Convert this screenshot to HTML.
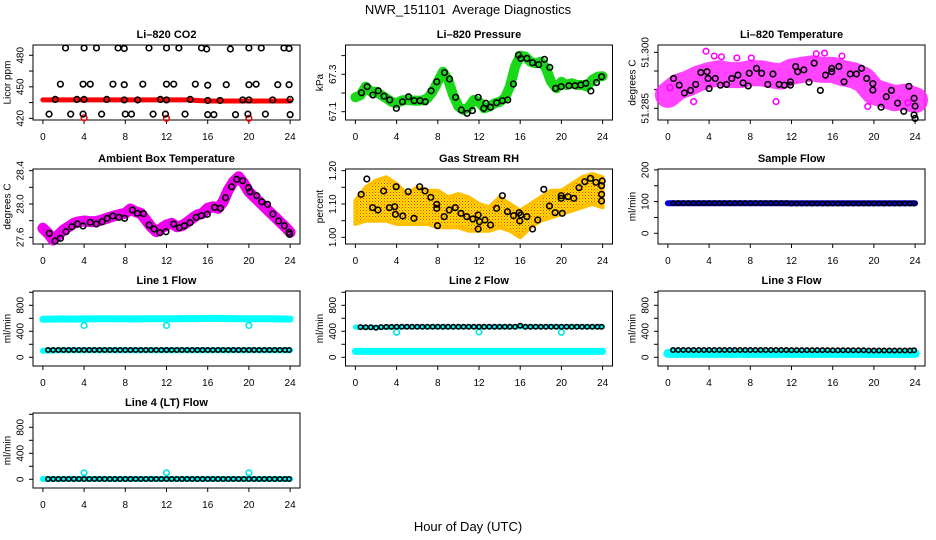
<!DOCTYPE html>
<html>
<head>
<meta charset="utf-8">
<style>
html,body{margin:0;padding:0;background:#fff;}
svg{display:block;font-family:"Liberation Sans",Arial,sans-serif;}
</style>
</head>
<body>
<svg id="chart" width="936" height="540" viewBox="0 0 936 540" xmlns="http://www.w3.org/2000/svg">
<text x="468" y="14" text-anchor="middle" font-size="13" xml:space="preserve">NWR_151101  Average Diagnostics</text>
<text x="468" y="531" text-anchor="middle" font-size="13">Hour of Day (UTC)</text>
</svg>
<script>
// ---------- data ----------
const tickHours = [0,4,8,12,16,20,24];
const hourly = [0,1,2,3,4,5,6,7,8,9,10,11,12,13,14,15,16,17,18,19,20,21,22,23,24];
const halfHours = [0,0.5,1,1.5,2,2.5,3,3.5,4,4.5,5,5.5,6,6.5,7,7.5,8,8.5,9,9.5,10,10.5,11,11.5,12,12.5,13,13.5,14,14.5,15,15.5,16,16.5,17,17.5,18,18.5,19,19.5,20,20.5,21,21.5,22,22.5,23,23.5,24];
const flowHours = [0.5,1,1.5,2,2.5,3,3.5,4,4.5,5,5.5,6,6.5,7,7.5,8,8.5,9,9.5,10,10.5,11,11.5,12,12.5,13,13.5,14,14.5,15,15.5,16,16.5,17,17.5,18,18.5,19,19.5,20,20.5,21,21.5,22,22.5,23,23.5,23.9];

// CO2
const co2Red = [437.5,437.5,437.5,437.5,437.5,437.5,437.5,437.5,437.5,437.5,437.5,437.5,437.5,437.5,437.5,437,436.5,436.5,436.5,436.5,436.5,436.5,436.5,436.5,436.5];
const co2RedDipHours = [4,12,20];
const co2RedDipValues = [420.5,420,420];
const co2BlackHours = [2.2,4.0,5.2,7.3,7.9,10.3,12.0,13.2,15.4,15.9,18.2,20.0,21.2,23.4,23.9,
  1.7,3.9,4.6,6.8,7.9,9.7,12.0,12.7,14.8,16.0,17.8,20.0,20.7,22.8,23.9,
  1.2,3.3,4.0,6.2,7.9,9.2,11.4,12.0,14.3,16.0,17.2,19.4,20.0,22.3,24.0,
  0.6,2.7,3.9,5.7,8.0,8.6,10.7,11.9,13.8,16.0,16.6,18.7,19.9,21.6,24.0];
const co2BlackValues = [487,487,487,487,486.5,487,487,487,487,486,486,487,487,487,486.5,
  452.5,452.5,452.5,452.5,452,452.5,452.5,452.5,452.5,451.5,452,452,452.5,452,452,
  438,438,438,438,437.5,437.5,438,437.5,438,437,437,437.5,437.5,437.5,438,
  424,424,424,424,424,424,424,424,424,423.5,423.5,423.5,424,424,423.5];

// Pressure
const presGreen = [67.177,67.189,67.234,67.207,67.207,67.189,67.172,67.153,67.145,67.160,67.163,67.160,67.159,67.160,67.172,67.207,67.260,67.314,67.270,67.189,67.127,67.109,67.124,67.163,67.153,67.118,67.127,67.145,67.153,67.172,67.234,67.341,67.400,67.394,67.367,67.359,67.367,67.332,67.260,67.225,67.260,67.243,67.252,67.243,67.243,67.234,67.270,67.287,67.290];
const presBlackHours = [0.59,1.14,1.70,2.22,2.78,3.33,3.98,4.57,5.16,5.71,6.27,6.79,7.35,7.90,8.65,9.14,9.73,10.28,10.84,11.36,11.92,12.47,12.67,13.12,13.71,14.27,14.79,15.34,15.83,16.06,16.65,17.20,17.79,18.35,18.87,19.43,19.98,20.73,21.32,21.88,22.37,22.86,23.41,23.9];
const presBlackValues = [67.201,67.234,67.189,67.212,67.183,67.163,67.118,67.153,67.180,67.159,67.159,67.153,67.212,67.260,67.309,67.275,67.177,67.109,67.091,67.106,67.177,67.118,67.145,67.124,67.148,67.159,67.163,67.248,67.403,67.385,67.385,67.362,67.352,67.380,67.337,67.225,67.234,67.239,67.239,67.243,67.252,67.211,67.256,67.287];

// Li-820 temperature
const ltempCenter = [51.2886,51.2908,51.2917,51.2930,51.2939,51.2944,51.2939,51.2939,51.2944,51.2944,51.2939,51.2935,51.2948,51.2953,51.2957,51.2953,51.2953,51.2944,51.2939,51.2926,51.2894,51.2886,51.2877,51.2881,51.2872];
const ltempOutlierHours = [3.7,0.2,4.5,5.2,6.7,8.1,14.4,15.2,19.4,16.9,23.3,10.5,2.5];
const ltempOutlierValues = [51.3003,51.2905,51.2990,51.2988,51.2985,51.2985,51.2996,51.2998,51.2855,51.2990,51.2865,51.2868,51.2868];
const ltempBlackHours = [0.55,1.1,1.6,2.2,2.7,3.2,3.8,3.9,4.0,4.6,5.1,5.7,6.2,6.8,7.3,7.8,7.9,8.6,9.1,9.7,10.2,10.8,11.3,11.9,11.9,12.4,12.6,13.2,13.7,14.2,14.8,15.3,15.9,15.9,16.6,17.1,17.7,18.3,18.8,19.3,19.9,19.9,20.7,21.2,21.7,22.3,22.9,23.4,23.9,24.0,23.9,24.0];
const ltempBlackValues = [51.2930,51.2912,51.2891,51.2898,51.2914,51.2946,51.2948,51.2930,51.2903,51.2930,51.2912,51.2914,51.2930,51.2939,51.2918,51.2910,51.2944,51.2957,51.2944,51.2914,51.2942,51.2914,51.2912,51.2912,51.2921,51.2962,51.2948,51.2953,51.2920,51.2971,51.2898,51.2939,51.2948,51.2957,51.2962,51.2921,51.2942,51.2942,51.2957,51.2930,51.2916,51.2899,51.2853,51.2881,51.2898,51.2864,51.2842,51.2909,51.2877,51.2856,51.2832,51.2823];

// Ambient box temperature
const ambMagenta = [27.708,27.648,27.568,27.628,27.688,27.727,27.768,27.787,27.796,27.790,27.787,27.800,27.820,27.840,27.860,27.875,27.888,27.940,27.907,27.888,27.808,27.727,27.667,27.708,27.748,27.768,27.727,27.739,27.780,27.828,27.868,27.888,27.948,27.967,27.948,28.027,28.168,28.268,28.327,28.248,28.147,28.087,28.027,27.967,27.907,27.847,27.787,27.727,27.660];
const ambBlackHours = [0.62,1.18,1.70,2.25,2.81,3.36,3.89,4.60,5.19,5.75,6.24,6.79,7.38,7.93,8.69,9.18,9.76,10.31,10.80,11.36,11.95,12.70,13.25,13.74,14.29,14.88,15.38,15.96,16.68,17.24,17.73,18.32,18.81,19.39,19.95,20.11,20.76,21.25,21.81,22.33,22.88,23.44,23.9,23.95];
const ambBlackValues = [27.648,27.556,27.588,27.667,27.727,27.760,27.736,27.780,27.760,27.787,27.828,27.856,27.840,27.828,27.928,27.888,27.885,27.748,27.700,27.655,27.667,27.760,27.715,27.739,27.775,27.840,27.860,27.876,27.960,27.948,28.075,28.207,28.296,28.280,28.195,28.147,28.100,28.027,27.996,27.880,27.796,27.739,27.660,27.636];

// Gas stream RH
const rhLow  = [1.04,1.05,1.05,1.05,1.04,1.04,1.04,1.04,1.03,1.03,1.03,1.02,1.02,1.02,1.03,1.02,1.00,1.03,1.05,1.06,1.07,1.08,1.09,1.10,1.09];
const rhHigh = [1.11,1.15,1.17,1.18,1.16,1.13,1.15,1.14,1.14,1.12,1.13,1.12,1.10,1.09,1.12,1.10,1.08,1.10,1.12,1.14,1.14,1.16,1.18,1.19,1.18];
const rhBlackHours = [0.56,1.11,1.67,2.19,2.74,3.3,3.82,3.96,3.89,4.6,5.13,5.68,6.24,6.76,7.32,7.9,7.9,7.97,8.62,9.11,9.7,10.25,10.81,11.4,11.92,12.05,11.92,12.58,13.12,13.71,14.27,14.76,15.35,15.9,15.96,16.06,16.65,17.2,17.7,18.29,18.84,19.39,19.98,19.98,20.08,20.64,21.2,21.71,22.27,22.82,23.35,23.9,23.9,23.9,23.96];
const rhBlackValues = [1.129,1.175,1.089,1.082,1.139,1.089,1.092,1.152,1.069,1.064,1.137,1.057,1.152,1.139,1.120,1.099,1.087,1.035,1.062,1.082,1.089,1.072,1.062,1.055,1.067,1.047,1.025,1.052,1.037,1.087,1.125,1.077,1.065,1.074,1.049,1.067,1.062,1.025,1.052,1.144,1.094,1.074,1.125,1.117,1.072,1.122,1.117,1.149,1.167,1.177,1.165,1.155,1.129,1.109,1.169];

// Sample flow
const sampleBlue = [95,95,95,95,95,95,95,95,95,95,95,95,95,95,95,95,95,95,95,95,95,95,95,95,95];
const sampleBlack = [95,95,95,95,95,95,95,95,95,95,95,95,95,95,95,95,95,95,95,95,95,95,95,94,94,94,94,94,94,94,94,94,94,94,94,94,94,94,94,94,94,94,94,94,94,94,94,94];

// Line 1 flow
const line1CyanHigh = [585,588,590,588,590,590,592,590,592,590,594,592,594,594,596,596,598,598,596,594,592,592,592,590,588];
const line1CyanLow = [100,105,108,108,108,108,108,108,108,108,108,108,108,108,108,108,108,108,108,108,108,108,108,108,108];
const line1DipHours = [4,12,20];
const line1DipValues = [490,490,490];
const line1Black = [112,112,112,112,112,112,112,112,112,112,112,112,112,112,112,112,112,112,112,112,112,112,112,112,112,112,112,112,112,112,112,112,112,112,112,112,112,112,112,112,112,112,112,112,112,112,112,112];

// Line 2 flow
const line2CyanHigh = [465,460,462,462,465,468,468,468,468,468,468,468,468,468,468,468,470,470,470,470,470,470,470,470,470];
const line2CyanLow = [90,90,90,90,90,90,90,90,90,90,90,90,90,90,90,90,90,90,90,90,90,90,90,90,90];
const line2DipHours = [4,12,20];
const line2DipValues = [385,390,385];
const line2Black = [465,462,462,455,465,468,468,470,470,470,470,470,470,470,470,470,470,470,470,470,470,470,470,470,470,470,470,470,470,470,470,485,470,470,470,470,470,470,470,470,470,470,470,470,470,470,470,470];

// Line 3 flow
const line3Cyan = [60,60,60,60,60,60,60,60,60,60,60,60,60,60,60,60,60,60,60,60,60,60,60,60,60];
const line3Black = [112,112,112,112,112,112,112,112,112,112,112,112,112,112,112,112,112,112,112,112,112,112,112,110,110,110,110,110,110,110,110,108,108,108,108,108,108,108,105,105,105,105,105,105,105,105,105,108];

// Line 4 flow
const line4Cyan = [5,5,5,5,5,5,5,5,5,5,5,5,5,5,5,5,5,5,5,5,5,5,5,5,5];
const line4DipHours = [4,12,20];
const line4DipValues = [100,100,100];
const line4Black = [5,5,5,5,5,5,5,5,5,5,5,5,5,5,5,5,5,5,5,5,5,5,5,5,5,5,5,5,5,5,5,5,5,5,5,5,5,5,5,5,5,5,5,5,5,5,5,5];

// ---------- drawing ----------
const NS = 'http://www.w3.org/2000/svg';
const svg = document.getElementById('chart');
const COLS = [33, 345.5, 658];
const ROWS = [45, 169, 291, 413];
const W = 267, H = 75;

function el(tag, attrs, parent) {
  const e = document.createElementNS(NS, tag);
  for (const k in attrs) e.setAttribute(k, attrs[k]);
  (parent || svg).appendChild(e);
  return e;
}

function panel(name, col, row, title, ylab, ylim, ticks, labels) {
  const g = el('g', {});
  
  
  const L = COLS[col], T = ROWS[row];
  const sx = h => L + (h + 0.96) / 25.92 * W;
  const sy = v => T + H - (v - ylim[0]) / (ylim[1] - ylim[0]) * H;
  const box = el('rect', {x: L, y: T, width: W, height: H, fill: 'none', stroke: '#000', 'stroke-width': 1}, g);
  
  
  const t = el('text', {x: L + W / 2, y: T - 7, 'text-anchor': 'middle', 'font-size': 11, 'font-weight': 'bold'}, g);
  t.textContent = title;
  
  
  const xa = el('g', {}, g);
  
  
  tickHours.forEach(h => {
    el('line', {x1: sx(h), x2: sx(h), y1: T + H, y2: T + H + 4, stroke: '#000'}, xa);
    const tl = el('text', {x: sx(h), y: T + H + 20, 'text-anchor': 'middle', 'font-size': 10}, xa);
    tl.textContent = String(h);
    
    
  });
  const dot = el('text', {x: L + W / 2, y: T + H + 16, 'text-anchor': 'middle', 'font-size': 8}, xa);
  dot.textContent = '.';
  const ya = el('g', {}, g);
  
  
  ticks.forEach(v => {
    if (sy(v) < T - 0.5 || sy(v) > T + H + 0.5) return;
    el('line', {x1: L - 4, x2: L, y1: sy(v), y2: sy(v), stroke: '#000'}, ya);
  });
  labels.forEach(lb => {
    const y = sy(lb[0]);
    const tl = el('text', {x: L - 12, y: y, 'text-anchor': 'middle', 'font-size': 10, transform: 'rotate(-90 ' + (L - 12) + ' ' + y + ')', 'dominant-baseline': 'central'}, ya);
    tl.textContent = lb[1];
    
    
  });
  const yt = el('text', {x: L - 25, y: T + H / 2, 'text-anchor': 'middle', 'font-size': 10, transform: 'rotate(-90 ' + (L - 25) + ' ' + (T + H / 2) + ')', 'dominant-baseline': 'central'}, g);
  yt.textContent = ylab;
  
  
  const data = el('g', {}, g);
  
  
  return {sx, sy, g: data};
}

function band(p, xs, ys, color, w, name, op) {
  const pts = xs.map((x, i) => p.sx(x).toFixed(1) + ',' + p.sy(ys[i]).toFixed(1)).join(' ');
  const pl = el('polyline', {points: pts, fill: 'none', stroke: color, 'stroke-width': w, 'stroke-linejoin': 'round', 'stroke-linecap': 'round', opacity: op || 1}, p.g);
  
  
}
function rings(p, xs, ys, color, name, r) {
  xs.forEach((x, i) => {
    const c = el('circle', {cx: p.sx(x), cy: p.sy(ys[i]), r: r || 2.8, fill: 'none', stroke: color, 'stroke-width': 1.6}, p.g);
    
    
  });
}

const defs = el('defs', {});
const pat = el('pattern', {id: 'rhpat', width: 3, height: 3, patternUnits: 'userSpaceOnUse'}, defs);
el('rect', {width: 3, height: 3, fill: '#ffe000'}, pat);
el('rect', {width: 1, height: 1, fill: '#ff3000'}, pat);
el('rect', {x: 1.5, y: 1.5, width: 1, height: 1, fill: '#ff7000'}, pat);

let p = panel('co2', 0, 0, 'Li\u2013820 CO2', 'Licor ppm', [418.4, 489.8], [420, 435, 450, 465, 480], [[420, '420'], [450, '450'], [480, '480']]);
band(p, hourly, co2Red, '#ff0000', 5, 'co2-red-series');
rings(p, co2RedDipHours, co2RedDipValues, '#ff0000', 'co2-red-point');
rings(p, co2BlackHours, co2BlackValues, '#000', 'co2-black-point');

p = panel('pressure', 1, 0, 'Li\u2013820 Pressure', 'kPa', [67.0556, 67.4567], [67.1, 67.2, 67.3, 67.4], [[67.1, '67.1'], [67.3, '67.3']]);
band(p, halfHours, presGreen, '#18d818', 10, 'pressure-green-series');
rings(p, presBlackHours, presBlackValues, '#000', 'pressure-black-point');

p = panel('li-temp', 2, 0, 'Li\u2013820 Temperature', 'degrees C', [51.28187, 51.30196], [51.285, 51.29, 51.295, 51.3], [[51.285, '51.285'], [51.3, '51.300']]);
band(p, hourly, ltempCenter, '#ff22ff', 26, 'li-temp-magenta-series', 0.85);
rings(p, ltempOutlierHours, ltempOutlierValues, '#ff00ff', 'li-temp-magenta-point');
rings(p, ltempBlackHours, ltempBlackValues, '#000', 'li-temp-black-point');

p = panel('ambient-temp', 0, 1, 'Ambient Box Temperature', 'degrees C', [27.52, 28.42], [27.6, 27.8, 28.0, 28.2, 28.4], [[27.6, '27.6'], [28.0, '28.0'], [28.4, '28.4']]);
band(p, halfHours, ambMagenta, '#ee00ee', 11, 'ambient-magenta-series');
rings(p, ambBlackHours, ambBlackValues, '#000', 'ambient-black-point');

p = panel('gas-rh', 1, 1, 'Gas Stream RH', 'percent', [0.98, 1.205], [1.0, 1.05, 1.1, 1.15, 1.2], [[1.0, '1.00'], [1.1, '1.10'], [1.2, '1.20']]);
{
  const up = hourly.map((h, i) => p.sx(h).toFixed(1) + ',' + p.sy(rhHigh[i]).toFixed(1));
  const dn = hourly.map((h, i) => p.sx(h).toFixed(1) + ',' + p.sy(rhLow[i]).toFixed(1)).reverse();
  const poly = el('polygon', {points: up.concat(dn).join(' '), fill: 'url(#rhpat)', stroke: '#ffc000', 'stroke-width': 4, 'stroke-linejoin': 'round'}, p.g);
  
  
}
rings(p, rhBlackHours, rhBlackValues, '#000', 'gas-rh-black-point');

p = panel('sample-flow', 2, 1, 'Sample Flow', 'ml/min', [-33.8, 202.8], [0, 50, 100, 150, 200], [[0, '0'], [100, '100'], [200, '200']]);
band(p, hourly, sampleBlue, '#0000ee', 6, 'sample-blue-series');
rings(p, flowHours, sampleBlack, '#000', 'sample-black-point', 2.2);

const flowTicks = [0, 200, 400, 600, 800, 1000];
const flowLabels = [[0, '0'], [400, '400'], [800, '800']];
const flowLim = [-134, 1020];

p = panel('line1-flow', 0, 2, 'Line 1 Flow', 'ml/min', flowLim, flowTicks, flowLabels);
band(p, hourly, line1CyanHigh, '#00ffff', 7, 'line1-cyan-high-series');
band(p, hourly, line1CyanLow, '#00ffff', 6, 'line1-cyan-low-series');
rings(p, line1DipHours, line1DipValues, '#00e5e5', 'line1-cyan-point');
rings(p, flowHours, line1Black, '#000', 'line1-black-point', 2.2);

p = panel('line2-flow', 1, 2, 'Line 2 Flow', 'ml/min', flowLim, flowTicks, flowLabels);
band(p, hourly, line2CyanLow, '#00ffff', 7, 'line2-cyan-low-series');
band(p, hourly, line2CyanHigh, '#00ffff', 5, 'line2-cyan-high-series');
rings(p, line2DipHours, line2DipValues, '#00e5e5', 'line2-cyan-point');
rings(p, flowHours, line2Black, '#000', 'line2-black-point', 2.2);

p = panel('line3-flow', 2, 2, 'Line 3 Flow', 'ml/min', flowLim, flowTicks, flowLabels);
band(p, hourly, line3Cyan, '#00ffff', 9, 'line3-cyan-series');
rings(p, flowHours, line3Black, '#000', 'line3-black-point', 2.2);

p = panel('line4-flow', 0, 3, 'Line 4 (LT) Flow', 'ml/min', flowLim, flowTicks, flowLabels);
band(p, hourly, line4Cyan, '#00ffff', 6, 'line4-cyan-series');
rings(p, line4DipHours, line4DipValues, '#00e5e5', 'line4-cyan-point');
rings(p, flowHours, line4Black, '#000', 'line4-black-point', 2.2);
</script>
</body>
</html>
